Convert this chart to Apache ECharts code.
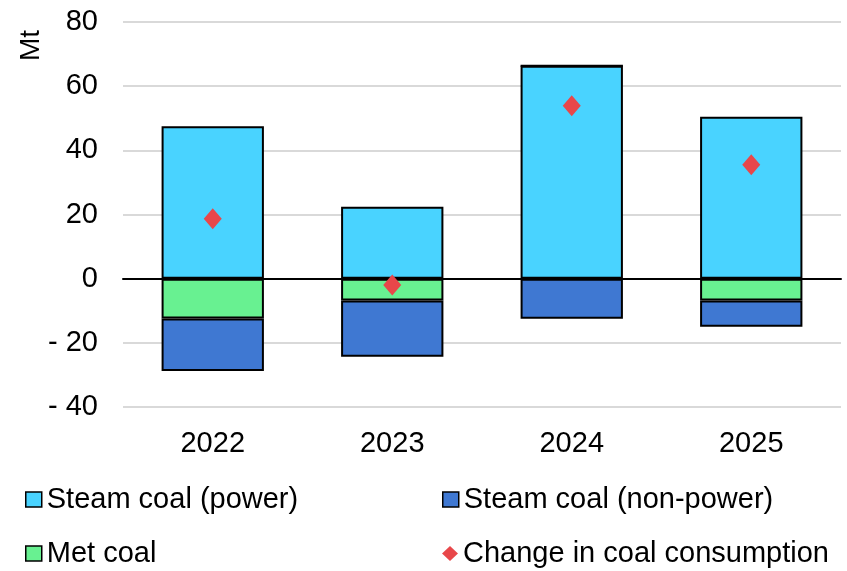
<!DOCTYPE html>
<html><head><meta charset="utf-8">
<script src="https://cdn.jsdelivr.net/npm/echarts@6/dist/echarts.min.js"></script>
<style>html,body{margin:0;padding:0;background:#fff}#c{width:847px;height:571px}</style>
</head><body><div id="c"></div>
<script>
const categories = ['2022', '2023', '2024', '2025'];
const steamPower = [47.5, 22.4, 66.4, 50.5];
const metCoal = [-12.4, -6.8, 0, -6.8];
const steamNonPower = [-16.4, -17.5, -12.5, -8.2];
const changeConsumption = [18.7, -2.0, 53.9, 35.5];
const yTicks = { min: -40, max: 80, interval: 20 };

const FONT = '"Liberation Sans", Arial, sans-serif';
const chart = echarts.init(document.getElementById('c'), null, { renderer: 'canvas' });
const border = { borderColor: '#000', borderWidth: 2 };
const legendBase = {
  orient: 'horizontal', itemWidth: 16, itemHeight: 15, itemGap: 6,
  textStyle: { fontFamily: FONT, fontSize: 29, color: '#000' },
  itemStyle: { borderWidth: 1.5, borderColor: '#000' },
  padding: 0, selectedMode: false
};
chart.setOption({
  animation: false,
  grid: { left: 123, right: 6, top: 22, bottom: 164 },
  xAxis: {
    type: 'category', data: categories,
    axisLine: { onZero: true, lineStyle: { color: '#000', width: 2 } },
    axisTick: { show: false },
    axisLabel: { fontFamily: FONT, fontSize: 29, color: '#000', margin: 22, interval: 0 }
  },
  yAxis: {
    type: 'value', min: yTicks.min, max: yTicks.max, interval: yTicks.interval,
    axisLine: { show: false }, axisTick: { show: false },
    splitLine: { lineStyle: { color: '#d9d9d9', width: 2 } },
    axisLabel: {
      fontFamily: FONT, fontSize: 29, color: '#000', margin: 25,
      formatter: v => v < 0 ? '- ' + Math.abs(v) : String(v)
    }
  },
  graphic: [{
    type: 'text', left: 17, top: 30, rotation: Math.PI / 2,
    style: { text: 'Mt', font: '28px ' + FONT, fill: '#000' }
  }],
  legend: [
    Object.assign({}, legendBase, { data: [{ name: 'Steam coal (power)', icon: 'rect' }], left: 25, top: 485 }),
    Object.assign({}, legendBase, { data: [{ name: 'Steam coal (non-power)', icon: 'rect' }], left: 442, top: 485 }),
    Object.assign({}, legendBase, { data: [{ name: 'Met coal', icon: 'rect' }], left: 25, top: 539 }),
    Object.assign({}, legendBase, { data: [{ name: 'Change in coal consumption', icon: 'diamond', itemStyle: { borderWidth: 0 } }], left: 442, top: 539 })
  ],
  series: [
    { name: 'Steam coal (power)', type: 'bar', stack: 'a', data: steamPower, barWidth: '57%',
      itemStyle: Object.assign({ color: '#49D3FF' }, border) },
    { name: 'Met coal', type: 'bar', stack: 'a', data: metCoal, barWidth: '57%',
      itemStyle: Object.assign({ color: '#68F191' }, border) },
    { name: 'Steam coal (non-power)', type: 'bar', stack: 'a', data: steamNonPower, barWidth: '57%',
      itemStyle: Object.assign({ color: '#3F78D2' }, border) },
    { name: 'Change in coal consumption', type: 'scatter', data: changeConsumption,
      symbol: 'diamond', symbolSize: [18, 21], z: 5,
      itemStyle: { color: '#E8474A', opacity: 1 } }
  ]
});
</script></body></html>
